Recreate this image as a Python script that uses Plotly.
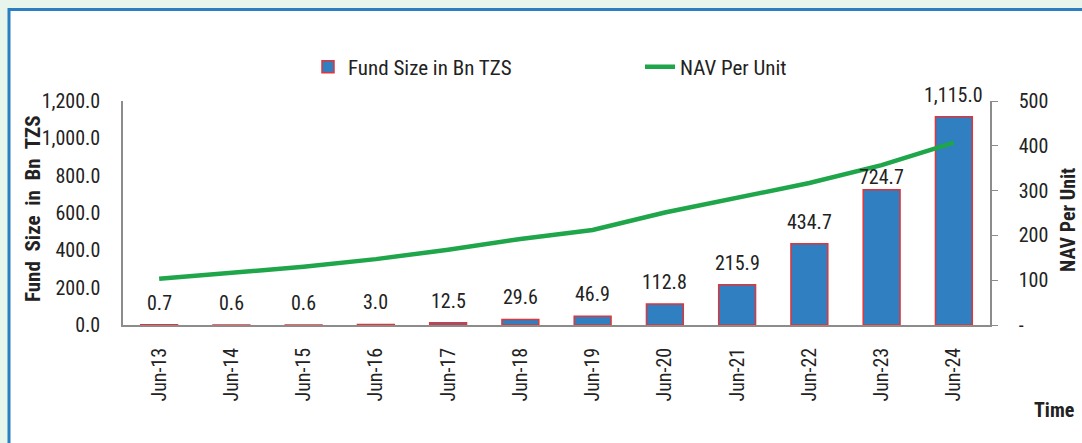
import plotly.graph_objects as go

categories = ["Jun-13", "Jun-14", "Jun-15", "Jun-16", "Jun-17", "Jun-18",
              "Jun-19", "Jun-20", "Jun-21", "Jun-22", "Jun-23", "Jun-24"]
fund_size = [0.7, 0.6, 0.6, 3.0, 12.5, 29.6, 46.9, 112.8, 215.9, 434.7, 724.7, 1115.0]
nav_per_unit = [103, 116, 130, 147, 168, 192, 212, 251, 283, 317, 357, 407]

left_ticks = [0, 200, 400, 600, 800, 1000, 1200]
right_ticks = [0, 100, 200, 300, 400, 500]
right_ticktext = ["-", "100", "200", "300", "400", "500"]

# label placement style (pixels above bar top); one label is nudged down as in the source
LABEL_SHIFT = 22
LABEL_SHIFT_OVERRIDE = {"Jun-23": 13}

FONT = "Roboto Condensed, Liberation Sans, Arial, sans-serif"
TXT = "#222222"
W, H = 1082, 443
L, R, T, B = 123, 92, 101, 118
PW, PH = W - L - R, H - T - B


def px_x(x):
    return (x - L) / PW


def px_y(y):
    return (H - B - y) / PH


fig = go.Figure()
fig.add_trace(go.Bar(
    x=categories, y=fund_size, name="Fund Size in Bn TZS",
    marker=dict(color="#2f7fc1", line=dict(color="#e0353a", width=1.5)),
    yaxis="y", legend="legend", showlegend=True,
))
fig.add_trace(go.Scatter(
    x=categories, y=nav_per_unit, name="NAV Per Unit", mode="lines",
    line=dict(color="#1fa64a", width=4.5),
    yaxis="y2", legend="legend2", showlegend=True,
))

annotations = []
for c, v in zip(categories, fund_size):
    annotations.append(dict(
        x=c, y=v, xref="x", yref="y", text=f"{v:,.1f}", showarrow=False,
        yshift=LABEL_SHIFT_OVERRIDE.get(c, LABEL_SHIFT),
        xanchor="center", yanchor="middle",
        font=dict(family=FONT, size=20, color=TXT),
    ))
annotations += [
    dict(x=px_x(33), y=px_y(209), xref="paper", yref="paper",
         xanchor="center", yanchor="middle",
         text="<b>Fund\u00a0 Size\u00a0 in\u00a0 Bn\u00a0 TZS</b>", textangle=-90,
         showarrow=False, font=dict(family=FONT, size=21, color=TXT)),
    dict(x=px_x(1068), y=px_y(220), xref="paper", yref="paper",
         xanchor="center", yanchor="middle",
         text="<b>NAV Per Unit</b>", textangle=-90,
         showarrow=False, font=dict(family=FONT, size=20, color=TXT)),
    dict(x=px_x(1054), y=px_y(410), xref="paper", yref="paper",
         xanchor="center", yanchor="middle",
         text="<b>Time</b>", showarrow=False,
         font=dict(family=FONT, size=20, color=TXT)),
]

shapes = [dict(
    type="rect", xref="paper", yref="paper",
    x0=px_x(9), y0=px_y(600), x1=px_x(1300), y1=px_y(9.5),
    line=dict(color="#2a7fc0", width=3), fillcolor="white", layer="below",
)]

fig.update_layout(
    width=W, height=H,
    margin=dict(l=L, r=R, t=T, b=B, pad=0),
    paper_bgcolor="#e7f5ec", plot_bgcolor="rgba(0,0,0,0)",
    bargap=0.49, showlegend=True,
    font=dict(family=FONT, size=20, color=TXT),
    xaxis=dict(
        type="category", tickangle=-90, showline=True, linecolor="#8c8c8c",
        linewidth=1.5, showgrid=False, ticks="", ticklabelstandoff=13,
        tickfont=dict(size=20, color=TXT),
    ),
    yaxis=dict(
        range=[0, 1200], tickvals=left_ticks, tickformat=",.1f",
        showline=True, linecolor="#8c8c8c", linewidth=1.5, showgrid=False,
        zeroline=False, ticks="", ticklabelstandoff=17,
        tickfont=dict(size=20, color=TXT),
    ),
    yaxis2=dict(
        range=[0, 500], overlaying="y", side="right",
        tickvals=right_ticks, ticktext=right_ticktext,
        showline=True, linecolor="#8c8c8c", linewidth=1.5, showgrid=False,
        zeroline=False, ticks="outside", ticklen=6, tickcolor="#8c8c8c",
        ticklabelstandoff=17, tickfont=dict(size=20, color=TXT),
    ),
    legend=dict(
        orientation="h", x=px_x(308), y=px_y(67), xanchor="left", yanchor="middle",
        bgcolor="rgba(0,0,0,0)", font=dict(family=FONT, size=21, color=TXT),
        itemwidth=30,
    ),
    legend2=dict(
        orientation="h", x=px_x(640), y=px_y(67), xanchor="left", yanchor="middle",
        bgcolor="rgba(0,0,0,0)", font=dict(family=FONT, size=21, color=TXT),
        itemwidth=30,
    ),
    annotations=annotations,
    shapes=shapes,
)

fig.write_html("out.html")
